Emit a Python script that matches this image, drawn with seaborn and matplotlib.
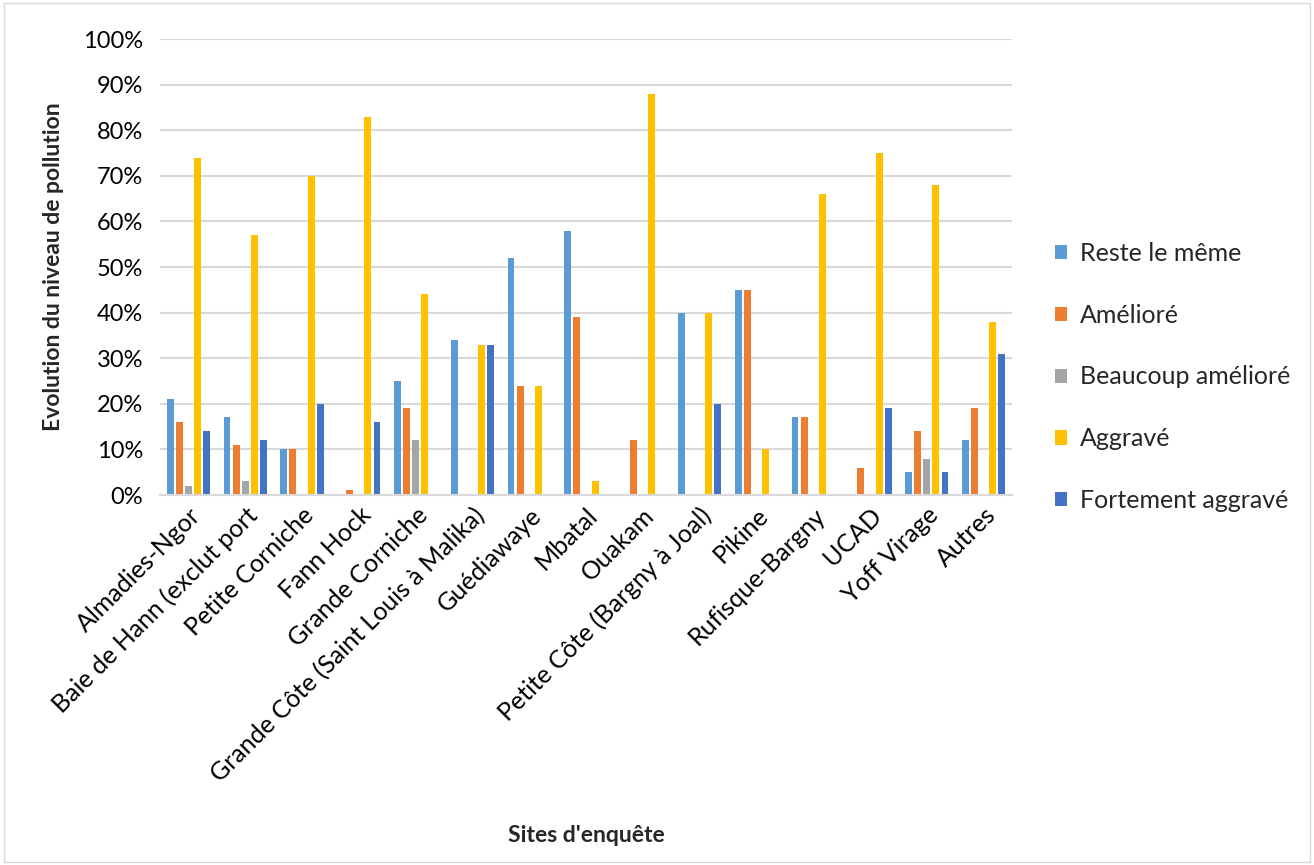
import matplotlib
matplotlib.use("Agg")
import matplotlib.pyplot as plt
import seaborn as sns
import pandas as pd
from matplotlib.patches import Rectangle, Patch
from matplotlib.ticker import PercentFormatter, MultipleLocator

sites = ["Almadies-Ngor", "Baie de Hann (exclut port", "Petite Corniche", "Fann Hock",
         "Grande Corniche", "Grande Côte (Saint Louis à Malika)", "Guédiawaye", "Mbatal",
         "Ouakam", "Petite Côte (Bargny à Joal)", "Pikine", "Rufisque-Bargny", "UCAD",
         "Yoff Virage", "Autres"]
series = ["Reste le même", "Amélioré", "Beaucoup amélioré", "Aggravé", "Fortement aggravé"]
reste = [21, 17, 10, 0, 25, 34, 52, 58, 0, 40, 45, 17, 0, 5, 12]
ameliore = [16, 11, 10, 1, 19, 0, 24, 39, 12, 0, 45, 17, 6, 14, 19]
beaucoup = [2, 3, 0, 0, 12, 0, 0, 0, 0, 0, 0, 0, 0, 8, 0]
aggrave = [74, 57, 70, 83, 44, 33, 24, 3, 88, 40, 10, 66, 75, 68, 38]
fortement = [14, 12, 20, 16, 0, 33, 0, 0, 0, 20, 0, 0, 19, 5, 31]
colors = ["#5B9BD5", "#ED7D31", "#A5A5A5", "#FFC000", "#4472C4"]

rows = []
for vals, name in zip([reste, ameliore, beaucoup, aggrave, fortement], series):
    for s, v in zip(sites, vals):
        rows.append({"site": s, "serie": name, "val": v})
df = pd.DataFrame(rows)

sns.set_theme(style="white")
plt.rcParams["font.family"] = ["Lato", "DejaVu Sans"]

fig = plt.figure(figsize=(13.14, 8.65), dpi=100)
ax = fig.add_axes([160/1314, 1-495/865, (1012-160)/1314, (495-39)/865])
sns.barplot(data=df, x="site", y="val", hue="serie", hue_order=series, order=sites,
            palette=colors, saturation=1, width=0.8, linewidth=0, ax=ax, legend=False)
for p in ax.patches:
    w = p.get_width()
    p.set_x(p.get_x() + w*0.12)
    p.set_width(w*0.76)

ax.set_ylim(0, 100)
ax.set_xlim(-0.5, len(sites)-0.5)
ax.yaxis.set_major_locator(MultipleLocator(10))
ax.yaxis.set_major_formatter(PercentFormatter(decimals=0))
ax.grid(axis="y", color="#D9D9D9", linewidth=1.5)
ax.set_axisbelow(True)
for s in ["top", "right", "left"]:
    ax.spines[s].set_visible(False)
ax.spines["bottom"].set_color("#D9D9D9")
ax.spines["bottom"].set_linewidth(1.5)
ax.tick_params(axis="y", length=0, labelsize=17, colors="black", pad=12)
ax.tick_params(axis="x", length=0, labelsize=18, colors="black", pad=6)
plt.setp(ax.get_xticklabels(), rotation=45, ha="right", rotation_mode="anchor")
ax.set_xlabel("Sites d'enquête", fontsize=16.5, fontweight="bold", labelpad=0)
ax.xaxis.set_label_coords(0.5, -(825-495)/456)
ax.set_ylabel("Evolution du niveau de pollution", fontsize=16.5, fontweight="bold", labelpad=14)

handles = [Patch(facecolor=c, edgecolor="none") for c in colors]
fig.legend(handles, series, loc="center left", bbox_to_anchor=(1032/1314, 1-377/865),
           frameon=False, fontsize=18, labelspacing=1.55, handlelength=0.5, handleheight=0.5,
           handletextpad=0.5)

fig.add_artist(Rectangle((0.003, 0.003), 0.994, 0.994, transform=fig.transFigure,
                         fill=False, edgecolor="#D9D9D9", linewidth=1))
fig.savefig("out.png", dpi=100)
